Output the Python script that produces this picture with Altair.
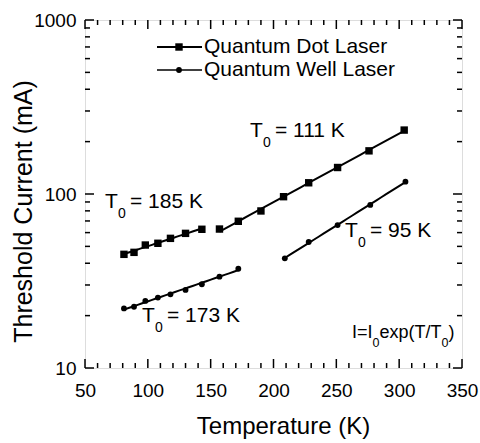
import altair as alt
import pandas as pd

# ---------------- data ----------------
qd_T1 = [81, 89, 98, 108, 118, 130, 143]
qd_I1 = [45.0, 46.2, 50.9, 52.1, 55.6, 59.4, 62.7]
qd_T2 = [157, 172, 190, 208, 228, 251, 276, 304]
qd_I2 = [62.9, 69.7, 79.9, 96.5, 116, 142, 177, 233]
qw_T1 = [81, 89, 98, 108, 118, 130, 143, 157, 172]
qw_I1 = [22.0, 22.5, 24.3, 25.4, 26.5, 28.1, 30.3, 33.5, 37.2]
qw_T2 = [209, 228, 251, 277, 305]
qw_I2 = [42.7, 53.0, 66.3, 86.5, 117.7]

legend_labels = ["Quantum Dot Laser", "Quantum Well Laser"]
t0_values = ["185 K", "111 K", "173 K", "95 K"]
x_ticks_major = [50, 100, 150, 200, 250, 300, 350]
x_ticks_minor = [v for v in range(60, 350, 10) if v % 50 != 0]
y_ticks_major = [10, 100, 1000]
y_ticks_minor = [20, 30, 40, 50, 60, 70, 80, 90, 200, 300, 400, 500, 600, 700, 800, 900]

# ---------------- tables ----------------
def seg(series, grp, T, I):
    return pd.DataFrame({"series": series, "grp": grp, "T": T, "I": I})

df = pd.concat([
    seg("QD", "qd1", qd_T1, qd_I1),
    seg("QD", "qd2", qd_T2, qd_I2),
    seg("QW", "qw1", qw_T1, qw_I1),
    seg("QW", "qw2", qw_T2, qw_I2),
], ignore_index=True)

W, H = 377, 348
FONT = "Liberation Sans"

xs = alt.Scale(domain=[50, 350], nice=False, zero=False)
ys = alt.Scale(type="log", domain=[10, 1000], nice=False)

x_axis = alt.Axis(values=x_ticks_major, format="d", ticks=False, domain=False, grid=False,
                  labelFont=FONT, labelFontSize=19, labelColor="black", labelPadding=13,
                  labelFlush=False, labelOverlap=False,
                  title="Temperature (K)", titleFont=FONT, titleFontSize=24,
                  titleFontWeight="normal", titleColor="black",
                  titleX=198, titleY=65, titleBaseline="alphabetic", titleAlign="center")
y_axis = alt.Axis(values=y_ticks_major, format="d", ticks=False, domain=False, grid=False,
                  labelFont=FONT, labelFontSize=19, labelColor="black", labelPadding=9,
                  labelFlush=False, labelOverlap=False,
                  title="Threshold Current (mA)", titleFont=FONT, titleFontSize=25,
                  titleFontWeight="normal", titleColor="black",
                  titleX=-54, titleY=191, titleBaseline="alphabetic", titleAlign="center",
                  titleAngle=270)

X = alt.X("T:Q", scale=xs, axis=x_axis)
Y = alt.Y("I:Q", scale=ys, axis=y_axis)

base = alt.Chart(df)

fit = base.transform_regression("T", "I", method="exp", groupby=["grp"]).mark_line(
    color="black", strokeWidth=2, clip=True
).encode(x=X, y=Y, detail="grp:N")

qd_pts = base.transform_filter(alt.datum.series == "QD").mark_point(
    shape="square", filled=True, color="black", opacity=1, size=55
).encode(x=X, y=Y)

qw_pts = base.transform_filter(alt.datum.series == "QW").mark_point(
    shape="circle", filled=True, color="black", opacity=1, size=34
).encode(x=X, y=Y)

# ---------------- inward ticks ----------------
def ydf(vals):
    return alt.Chart(pd.DataFrame({"I": vals}))

def xdf(vals):
    return alt.Chart(pd.DataFrame({"T": vals}))

tick_layers = []
for vals, ln in [(y_ticks_major, 9), (y_ticks_minor, 5)]:
    tick_layers.append(ydf(vals).mark_rule(color="black", strokeWidth=1.5).encode(
        y=alt.Y("I:Q", scale=ys, axis=y_axis), x=alt.value(0), x2=alt.value(ln)))
    tick_layers.append(ydf(vals).mark_rule(color="black", strokeWidth=1.5).encode(
        y=alt.Y("I:Q", scale=ys, axis=y_axis), x=alt.value(W), x2=alt.value(W - ln)))
for vals, ln in [(x_ticks_major, 9), (x_ticks_minor, 5)]:
    tick_layers.append(xdf(vals).mark_rule(color="black", strokeWidth=1.5).encode(
        x=alt.X("T:Q", scale=xs, axis=x_axis), y=alt.value(H), y2=alt.value(H - ln)))
    tick_layers.append(xdf(vals).mark_rule(color="black", strokeWidth=1.5).encode(
        x=alt.X("T:Q", scale=xs, axis=x_axis), y=alt.value(0), y2=alt.value(ln)))

# ---------------- text helpers ----------------
one = pd.DataFrame({"k": [0]})

def txt(s, x, y, size, baseline="alphabetic"):
    return alt.Chart(one).mark_text(text=s, font=FONT, fontSize=size, color="black",
                                    align="left", baseline=baseline).encode(
        x=alt.value(x), y=alt.value(y))

def t0_label(x, y, value):
    return [txt("T", x, y, 21), txt("0", x + 13, y + 10, 14), txt("= " + value, x + 25, y, 21)]

ann = []
ann += t0_label(20, 188, t0_values[0])
ann += t0_label(165, 117, t0_values[1])
ann += t0_label(57, 302, t0_values[2])
ann += t0_label(260, 217, t0_values[3])

# formula I = I0 exp(T/T0)
fx, fy = 267, 318
ann += [txt("I=I", fx, fy, 18), txt("0", fx + 20.5, fy + 9, 12.5),
        txt("exp(T/T", fx + 27.5, fy, 18), txt("0", fx + 89.5, fy + 9, 12.5),
        txt(")", fx + 96.5, fy, 18)]

# ---------------- legend ----------------
leg = []
for i, (label, shape, size, sw) in enumerate([
        (legend_labels[0], "square", 55, 2), (legend_labels[1], "circle", 34, 1.3)]):
    yy = 27 + 23 * i
    leg.append(alt.Chart(one).mark_rule(color="black", strokeWidth=sw).encode(
        x=alt.value(72), x2=alt.value(117), y=alt.value(yy)))
    leg.append(alt.Chart(one).mark_point(shape=shape, filled=True, color="black",
                                         opacity=1, size=size).encode(
        x=alt.value(94), y=alt.value(yy)))
    leg.append(txt(label, 119, yy, 21, baseline="middle"))

chart = alt.layer(fit, qd_pts, qw_pts, *tick_layers, *ann, *leg).properties(
    width=W, height=H,
    autosize=alt.AutoSizeParams(type="none"),
    padding={"left": 85, "top": 20, "right": 18, "bottom": 75},
).configure_view(stroke="black", strokeWidth=2).configure(background="white")

chart.save("out.html", embed_options={"renderer": "svg", "actions": False})
